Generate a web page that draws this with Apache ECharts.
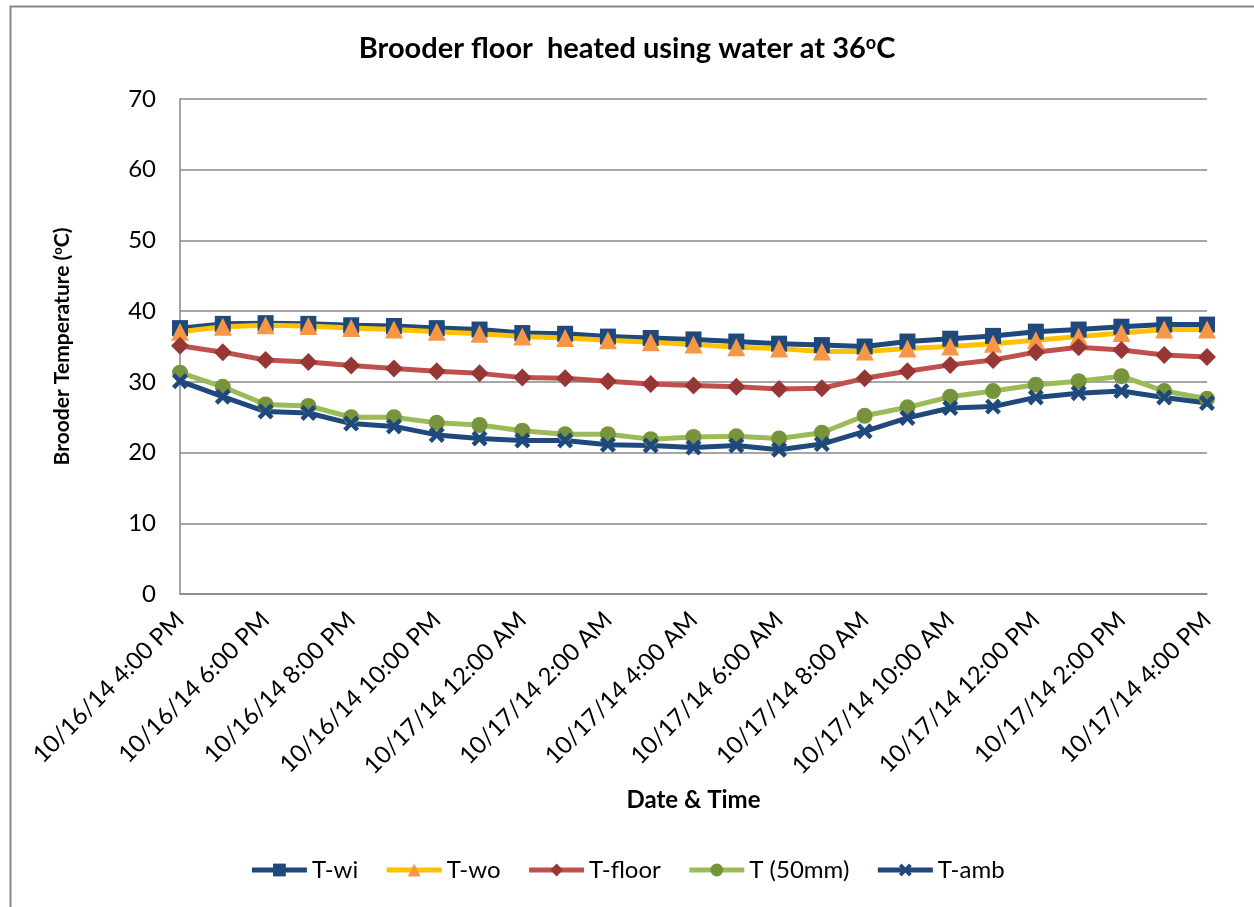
<!DOCTYPE html>
<html>
<head>
<meta charset="utf-8">
<script src="https://cdn.jsdelivr.net/npm/echarts@6/dist/echarts.min.js"></script>
<style>
html,body{margin:0;padding:0;background:#fff;}
#chart{width:1254px;height:907px;}
</style>
</head>
<body>
<div id="chart"></div>
<script>
const categories = [
  "10/16/14 4:00 PM","10/16/14 5:00 PM","10/16/14 6:00 PM","10/16/14 7:00 PM","10/16/14 8:00 PM",
  "10/16/14 9:00 PM","10/16/14 10:00 PM","10/16/14 11:00 PM","10/17/14 12:00 AM","10/17/14 1:00 AM",
  "10/17/14 2:00 AM","10/17/14 3:00 AM","10/17/14 4:00 AM","10/17/14 5:00 AM","10/17/14 6:00 AM",
  "10/17/14 7:00 AM","10/17/14 8:00 AM","10/17/14 9:00 AM","10/17/14 10:00 AM","10/17/14 11:00 AM",
  "10/17/14 12:00 PM","10/17/14 1:00 PM","10/17/14 2:00 PM","10/17/14 3:00 PM","10/17/14 4:00 PM"
];
const tWi    = [37.6,38.2,38.3,38.2,38.0,37.9,37.6,37.4,36.9,36.8,36.4,36.2,36.0,35.7,35.4,35.2,35.0,35.7,36.1,36.5,37.1,37.4,37.8,38.1,38.1];
const tWo    = [37.1,37.8,38.0,37.9,37.6,37.4,37.1,36.8,36.4,36.2,35.9,35.6,35.3,34.9,34.7,34.3,34.3,34.7,35.0,35.4,35.9,36.4,36.9,37.4,37.4];
const tFloor = [35.1,34.2,33.1,32.8,32.3,31.9,31.5,31.2,30.6,30.5,30.1,29.7,29.5,29.3,29.0,29.1,30.5,31.5,32.4,33.1,34.2,34.9,34.5,33.8,33.5];
const t50    = [31.3,29.3,26.8,26.6,25.0,25.0,24.2,23.9,23.1,22.6,22.6,21.9,22.2,22.3,22.0,22.8,25.2,26.4,27.9,28.7,29.6,30.1,30.8,28.7,27.6];
const tAmb   = [30.1,27.9,25.8,25.6,24.1,23.7,22.5,22.0,21.7,21.7,21.1,21.0,20.7,21.0,20.4,21.2,23.0,24.9,26.3,26.5,27.8,28.4,28.7,27.8,27.0];
const seriesNames = ["T-wi","T-wo","T-floor","T (50mm)","T-amb"];
const yTicks = [0,10,20,30,40,50,60,70];

const FONT = "Lato, 'Liberation Sans', sans-serif";
const X_PATH = 'path://M2,0 L5,3 L8,0 L10,2 L7,5 L10,8 L8,10 L5,7 L2,10 L0,8 L3,5 L0,2 Z';

function mk(name, data, lineColor, markColor, symbol, size) {
  return {
    name: name, type: 'line', data: data,
    symbol: symbol, symbolSize: size,
    lineStyle: { color: lineColor, width: 5 },
    itemStyle: { color: markColor },
    emphasis: { disabled: true },
    animation: false
  };
}

const chart = echarts.init(document.getElementById('chart'));
chart.setOption({
  backgroundColor: '#fff',
  animation: false,
  graphic: [{
    type: 'rect', silent: true,
    shape: { x: 10.5, y: 6.5, width: 1400, height: 1000 },
    style: { fill: 'none', stroke: '#888', lineWidth: 2 }
  }],
  title: {
    text: 'Brooder floor  heated using water at 36{sup|o}C',
    left: 'center', top: 29,
    textStyle: {
      fontFamily: FONT, fontSize: 29, fontWeight: 'bold', color: '#000',
      rich: { sup: { fontFamily: FONT, fontSize: 18, fontWeight: 'bold', color: '#000', padding: [0,0,12,0] } }
    }
  },
  legend: {
    bottom: 20, left: 'center',
    itemWidth: 55, itemHeight: 16, itemGap: 26,
    lineStyle: { width: 5 },
    textStyle: { fontFamily: FONT, fontSize: 24, color: '#000' },
    data: seriesNames
  },
  grid: { left: 180, right: 47, top: 99, bottom: 313, containLabel: false },
  xAxis: {
    type: 'category', data: categories, boundaryGap: false,
    name: 'Date & Time', nameLocation: 'middle', nameGap: 194,
    nameTextStyle: { fontFamily: FONT, fontSize: 24, fontWeight: 'bold', color: '#000' },
    axisLine: { lineStyle: { color: '#888', width: 1.5 } },
    axisTick: { show: false },
    axisLabel: { interval: 1, rotate: 45, fontFamily: FONT, fontSize: 24, color: '#000', margin: 22 },
    splitLine: { show: false }
  },
  yAxis: {
    type: 'value', min: 0, max: 70, interval: 10,
    name: 'Brooder Temperature ({sup|o}C)', nameLocation: 'middle', nameGap: 106,
    nameTextStyle: {
      fontFamily: FONT, fontSize: 21, fontWeight: 'bold', color: '#000',
      rich: { sup: { fontFamily: FONT, fontSize: 13, fontWeight: 'bold', color: '#000', padding: [0,0,10,0] } }
    },
    axisLine: { show: true, lineStyle: { color: '#888', width: 1.5 } },
    axisTick: { show: false },
    axisLabel: { fontFamily: FONT, fontSize: 24, color: '#000', margin: 24,
      formatter: function (v) { return yTicks.indexOf(v) >= 0 ? String(v) : ''; } },
    splitLine: { lineStyle: { color: '#888', width: 1.5 } }
  },
  series: [
    mk('T-wi', tWi, '#1F497D', '#1F497D', 'rect', 16),
    mk('T-wo', tWo, '#FFC000', '#F79646', 'triangle', 18),
    mk('T-floor', tFloor, '#C0504D', '#953735', 'diamond', 18),
    mk('T (50mm)', t50, '#9BBB59', '#77933C', 'circle', 16),
    mk('T-amb', tAmb, '#1F497D', '#1F497D', X_PATH, 16)
  ]
});
</script>
</body>
</html>
